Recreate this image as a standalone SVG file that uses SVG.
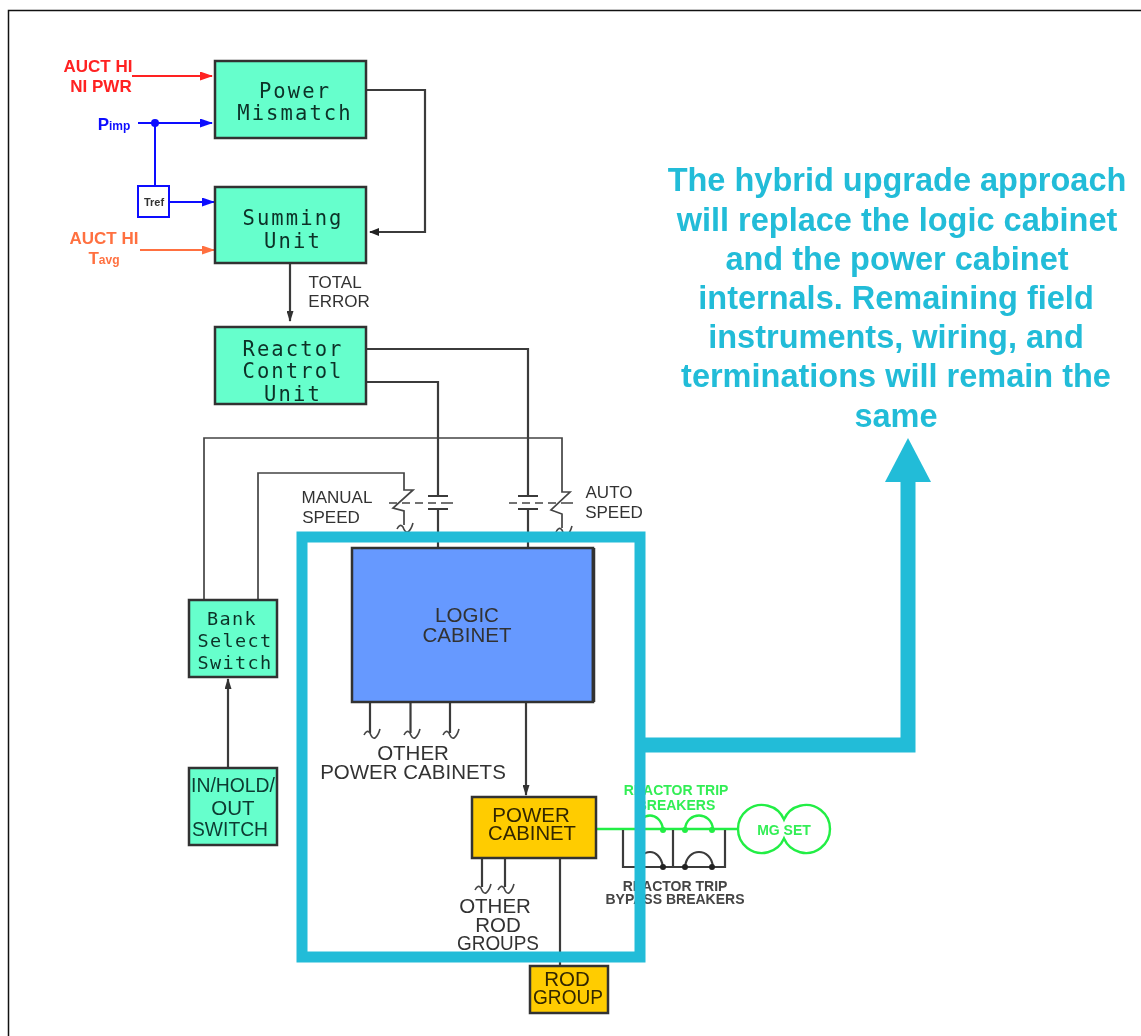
<svg xmlns="http://www.w3.org/2000/svg" width="1141" height="1036" viewBox="0 0 1141 1036">
<defs>
<filter id="bl" x="-5%" y="-5%" width="110%" height="110%"><feGaussianBlur stdDeviation="0.55"/></filter>
<marker id="aK" markerWidth="10" markerHeight="8" refX="9" refY="4" orient="auto" markerUnits="userSpaceOnUse"><path d="M0 0L10 4L0 8z" fill="#222"/></marker>
<marker id="aN" markerWidth="11" markerHeight="7" refX="10" refY="3.500" orient="auto" markerUnits="userSpaceOnUse"><path d="M0 0L11 3.500L0 7z" fill="#333"/></marker>
<marker id="aR" markerWidth="13" markerHeight="9" refX="12" refY="4.500" orient="auto" markerUnits="userSpaceOnUse"><path d="M0 0L13 4.500L0 9z" fill="#ff2020"/></marker>
<marker id="aB" markerWidth="13" markerHeight="9" refX="12" refY="4.500" orient="auto" markerUnits="userSpaceOnUse"><path d="M0 0L13 4.500L0 9z" fill="#1010ff"/></marker>
<marker id="aO" markerWidth="13" markerHeight="9" refX="12" refY="4.500" orient="auto" markerUnits="userSpaceOnUse"><path d="M0 0L13 4.500L0 9z" fill="#ff7040"/></marker>
<path id="sq" d="M-7 2Q-4 -4 -1 0Q1 6 4 5Q7 3 9 -4" fill="none" stroke="#444" stroke-width="1.600"/>
</defs>
<style>
text{font-family:"Liberation Sans",Arial,sans-serif;text-anchor:middle}
#connectors,#labels,#mg-set,#tref,.nd{filter:url(#bl)}
.m{font-family:"DejaVu Sans Mono","Liberation Mono",monospace;font-size:20.500px;letter-spacing:2.100px;fill:#0c3028}
.m2{font-family:"DejaVu Sans Mono","Liberation Mono",monospace;font-size:18.500px;letter-spacing:1.400px;fill:#0c3028}
.s{font-size:17px;fill:#333}
.b{font-size:20.500px;fill:#333}
.d{fill:#332800}
.box{stroke:#333;stroke-width:2.500}
.g{fill:#66ffcc}.y{fill:#ffcc00}
.w{fill:none;stroke:#3a3a3a;stroke-width:2.200}
.t{fill:none;stroke:#444;stroke-width:1.700}
.cy{fill:none;stroke:#22bcd8}
.lb{font-weight:bold;font-size:17px}
.gr{fill:none;stroke:#22ee44;stroke-width:2.400}
.bt{font-size:14px;font-weight:bold}
</style>
<rect x="0" y="0" width="1141" height="1036" fill="#fff"/>
<path d="M8.500 1036V10.500H1141" fill="none" stroke="#111" stroke-width="1.500"/>
<g id="connectors">
<path class="w" d="M367 90H425V232H370" marker-end="url(#aK)"/>
<path class="w" d="M290 264V321" marker-end="url(#aN)"/>
<path class="w" d="M367 349H528V496M528 509V548"/>
<path class="w" d="M367 382H438V496M438 509V548"/>
<path class="t" d="M204 600V438H562V492H570L551 510L562 514V528"/>
<path class="t" d="M258 600V473H404V490H413L393 508L404 511V525"/>
<path class="t" d="M389 503H397M402 503H410M415 503H423M428 503H436M441 503H453M509 503H517M522 503H530M535 503H543M548 503H556M561 503H573"/>
<path class="w" d="M428 496H448M428 509H448M518 496H538M518 509H538"/>
<use href="#sq" x="404" y="527"/><use href="#sq" x="563" y="530"/>
<path class="w" d="M228 768V679" marker-end="url(#aN)"/>
<path class="w" d="M370 702V733M410.500 702V733M450 702V733"/>
<use href="#sq" x="371" y="733"/><use href="#sq" x="411" y="733"/><use href="#sq" x="450" y="733"/>
<path class="w" d="M526 702V795" marker-end="url(#aN)"/>
<path class="w" d="M482 858V887M505 858V887"/>
<use href="#sq" x="482" y="888"/><use href="#sq" x="505" y="888"/>
<path class="w" d="M560 858V965"/>
<path d="M132 76H212" fill="none" stroke="#ff2020" stroke-width="2" marker-end="url(#aR)"/>
<path d="M138 123H212" fill="none" stroke="#1010ff" stroke-width="2" marker-end="url(#aB)"/>
<path d="M155 123V186" fill="none" stroke="#1010ff" stroke-width="2"/>
<path d="M170 202H214" fill="none" stroke="#1010ff" stroke-width="2" marker-end="url(#aB)"/>
<circle cx="155" cy="123" r="4" fill="#1010ff"/>
<path d="M140 250H214" fill="none" stroke="#ff7040" stroke-width="2" marker-end="url(#aO)"/>
<path class="gr" d="M597 829H738M637 829C640 811 660 811 663 829M685 829C687 811 711 811 713 829"/>
<circle cx="663" cy="830" r="3" fill="#22ee44"/><circle cx="685" cy="830" r="3" fill="#22ee44"/><circle cx="712" cy="830" r="3" fill="#22ee44"/>
<path class="w" d="M623 830V867H725V830M673 830V867M637 867C640 847 660 847 663 867M685 867C687 847 711 847 713 867"/>
<circle cx="663" cy="867" r="3" fill="#222"/><circle cx="685" cy="867" r="3" fill="#222"/><circle cx="712" cy="867" r="3" fill="#222"/>
</g>
<g id="power-mismatch" class="nd"><rect class="box g" x="215" y="61" width="151" height="77"/><text class="m" x="295" y="98">Power</text><text class="m" x="295" y="120">Mismatch</text></g>
<g id="summing-unit" class="nd"><rect class="box g" x="215" y="187" width="151" height="76"/><text class="m" x="293" y="225">Summing</text><text class="m" x="293" y="248">Unit</text></g>
<g id="reactor-control" class="nd"><rect class="box g" x="215" y="327" width="151" height="77"/><text class="m" x="293" y="356">Reactor</text><text class="m" x="293" y="378">Control</text><text class="m" x="293" y="401">Unit</text></g>
<g id="bank-select" class="nd"><rect class="box g" x="189" y="600" width="88" height="77"/><text class="m2" x="232" y="625">Bank</text><text class="m2" x="235" y="647">Select</text><text class="m2" x="235" y="669">Switch</text></g>
<g id="inout-switch" class="nd"><rect class="box g" x="189" y="768" width="88" height="77"/><text class="b" x="233" y="792" textLength="84" lengthAdjust="spacingAndGlyphs" style="fill:#0c3a30">IN/HOLD/</text><text class="b" x="233" y="815" style="fill:#0c3a30">OUT</text><text class="b" x="230" y="836" textLength="76" lengthAdjust="spacingAndGlyphs" style="fill:#0c3a30">SWITCH</text></g>
<g id="logic-cabinet" class="nd"><rect class="box" x="352" y="548" width="241" height="154" fill="#6699ff"/><path d="M593.500 548V702" stroke="#333" stroke-width="3.500"/><text class="b" x="467" y="622">LOGIC</text><text class="b" x="467" y="642">CABINET</text></g>
<g id="power-cabinet" class="nd"><rect class="box y" x="472" y="797" width="124" height="61"/><text class="b d" x="531" y="822">POWER</text><text class="b d" x="532" y="840" textLength="88" lengthAdjust="spacingAndGlyphs">CABINET</text></g>
<g id="rod-group" class="nd"><rect class="box y" x="530" y="966" width="78" height="47"/><text class="b d" x="567" y="986">ROD</text><text class="b d" x="568" y="1004" textLength="70" lengthAdjust="spacingAndGlyphs">GROUP</text></g>
<g id="tref"><rect x="138" y="186" width="31" height="31" fill="#fff" stroke="#1010ff" stroke-width="2"/><text x="154" y="206" style="font-size:11px;font-weight:bold;fill:#333">Tref</text></g>
<g id="labels">
<text class="lb" x="98" y="72" fill="#ff2020">AUCT HI</text><text class="lb" x="101" y="92" fill="#ff2020">NI PWR</text>
<text class="lb" x="114" y="130" fill="#1010ff">P<tspan style="font-size:12px">imp</tspan></text>
<text class="lb" x="104" y="244" fill="#ff7040">AUCT HI</text><text class="lb" x="104" y="264" fill="#ff7040">T<tspan style="font-size:12px">avg</tspan></text>
<text class="s" x="335" y="288">TOTAL</text><text class="s" x="339" y="307">ERROR</text>
<text class="s" x="337" y="503">MANUAL</text><text class="s" x="331" y="523">SPEED</text>
<text class="s" x="609" y="498">AUTO</text><text class="s" x="614" y="518">SPEED</text>
<text class="b" x="413" y="760">OTHER</text><text class="b" x="413" y="779">POWER CABINETS</text>
<text class="b" x="495" y="913">OTHER</text><text class="b" x="498" y="932">ROD</text><text class="b" x="498" y="950" textLength="82" lengthAdjust="spacingAndGlyphs">GROUPS</text>
<text class="bt" x="676" y="795" fill="#33ee55">REACTOR TRIP</text><text class="bt" x="676" y="810" fill="#33ee55">BREAKERS</text>
<text class="bt" x="675" y="891" fill="#444">REACTOR TRIP</text><text class="bt" x="675" y="904" fill="#444">BYPASS BREAKERS</text>
</g>
<g id="mg-set"><path class="gr" d="M784 819.400A24 24 0 1 0 784 838.600A24 24 0 1 0 784 819.400Z"/><text class="bt" x="784" y="835" fill="#33ee55">MG SET</text></g>
<g id="highlight"><rect class="cy" x="302" y="537" width="338" height="420" stroke-width="11"/><path class="cy" d="M640 745H908V480" stroke-width="15"/><path d="M885 482L908 438L931 482z" fill="#22bcd8"/></g>
<g id="note" style="font-weight:bold;font-size:32.500px;fill:#22bcd8">
<text x="897" y="191">The hybrid upgrade approach</text>
<text x="897" y="231">will replace the logic cabinet</text>
<text x="897" y="270">and the power cabinet</text>
<text x="896" y="309">internals. Remaining field</text>
<text x="896" y="348">instruments, wiring, and</text>
<text x="896" y="387">terminations will remain the</text>
<text x="896" y="427">same</text>
</g>
</svg>
